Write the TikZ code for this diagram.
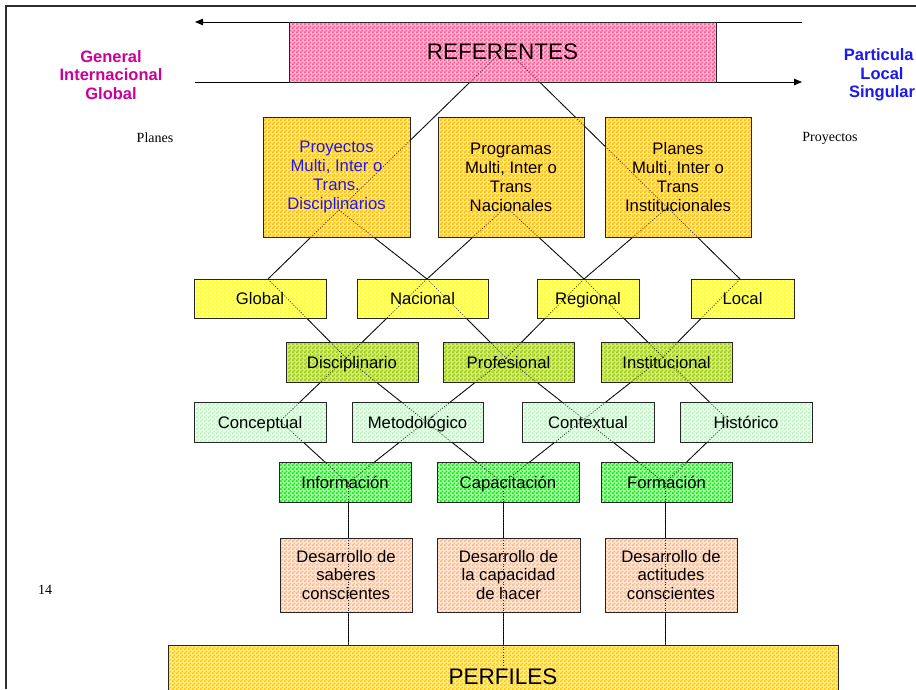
\documentclass[tikz,border=0pt]{standalone}
\usepackage{fontspec}
\setmainfont{Liberation Sans}
\newfontfamily\timesfont{Liberation Serif}
\usetikzlibrary{patterns,arrows.meta}

% small two-colour check used by every box
\pgfdeclarepatternformonly{finechecks}{\pgfpointorigin}{\pgfqpoint{4pt}{4pt}}{\pgfqpoint{4pt}{4pt}}%
{%
  \pgfpathrectangle{\pgfpointorigin}{\pgfqpoint{2pt}{2pt}}%
  \pgfpathrectangle{\pgfqpoint{2pt}{2pt}}{\pgfqpoint{2pt}{2pt}}%
  \pgfusepath{fill}%
}

\definecolor{framegray}{RGB}{45,45,45}
\definecolor{refpink}{RGB}{255,80,140}
\definecolor{refbase}{RGB}{255,185,212}
\definecolor{goldchk}{RGB}{255,185,0}
\definecolor{goldbase}{RGB}{255,232,130}
\definecolor{yellowchk}{RGB}{255,255,0}
\definecolor{yellowbase}{RGB}{255,255,165}
\definecolor{olivechk}{RGB}{150,200,0}
\definecolor{olivebase}{RGB}{214,234,135}
\definecolor{mintchk}{RGB}{180,245,190}
\definecolor{mintbase}{RGB}{235,255,235}
\definecolor{greenchk}{RGB}{0,235,0}
\definecolor{greenbase}{RGB}{175,255,175}
\definecolor{peachchk}{RGB}{250,180,135}
\definecolor{peachbase}{RGB}{255,230,212}
\definecolor{perfgold}{RGB}{255,200,0}
\definecolor{perfbase}{RGB}{255,236,135}
\definecolor{labelmagenta}{RGB}{204,0,153}
\definecolor{labelblue}{RGB}{25,25,240}

\tikzset{
  chkbox/.style 2 args={draw=black!85, line width=0.8pt, inner sep=0pt, align=center,
    preaction={fill=#2}, pattern=finechecks, pattern color=#1},
  boxtext/.style={font=\fontsize{16.7}{19}\selectfont},
  oneline/.style={boxtext, text height=12pt, text depth=0pt},
  bigtext/.style={font=\fontsize{22.5}{26}\selectfont},
  link/.style={line width=0.8pt, black},
  linkdots/.style={line width=0.7pt, black!85, dash pattern=on 1pt off 1.6pt},
  sidelabel/.style={align=center, font=\fontsize{16.5}{18.3}\selectfont\bfseries},
  serifnote/.style={font=\timesfont\fontsize{14}{16}\selectfont},
}

% every link of the lattice, as pairs of junction names
\def\linklist{jR/jGlo, jR/jLoc, jP1/jNac, jP2/jNac, jP2/jReg, jP3/jReg,
  jGlo/jDis, jNac/jDis, jNac/jPro, jReg/jPro, jReg/jIns, jLoc/jIns,
  jDis/jCon, jCon/jInf, jPro/jInf, jDis/jCap, jIns/jCap, jPro/jFor,
  jIns/jHis, jHis/jFor, jInf/eInf, jCap/eCap, jFor/eFor}

\begin{document}
\begin{tikzpicture}[x=1pt,y=-1pt]
\useasboundingbox (0,0) rectangle (916,689);

% page frame (top and left edges)
\draw[framegray, line width=1.5pt] (6,689) -- (6,6) -- (916,6);

% junction points of the lattice
\coordinate (jR)   at (505,48);
\coordinate (jP1)  at (339,210);
\coordinate (jP2)  at (506,207);
\coordinate (jP3)  at (667,208);
\coordinate (jGlo) at (268,279);
\coordinate (jNac) at (427,279);
\coordinate (jReg) at (584,279);
\coordinate (jLoc) at (740,279);
\coordinate (jDis) at (346,358);
\coordinate (jPro) at (506,358);
\coordinate (jIns) at (663,357);
\coordinate (jCon) at (280,421);
\coordinate (jHis) at (729,421);
\coordinate (jInf) at (348,483);
\coordinate (jCap) at (503,483);
\coordinate (jFor) at (665,483);
\coordinate (eInf) at (348,646);
\coordinate (eCap) at (503,670);
\coordinate (eFor) at (665,646);

% solid links under the boxes
\foreach \a/\b in \linklist {\draw[link] (\a) -- (\b);}

% the two direction arrows
\coordinate (upR) at (802,22);
\coordinate (upL) at (195,22);
\coordinate (loL) at (195,82);
\coordinate (loR) at (802,82);
\draw[link, -{Triangle[length=8pt,width=6.5pt]}] (upR) -- (upL);
\draw[link, -{Triangle[length=8pt,width=6.5pt]}] (loL) -- (loR);

% boxes
\node[chkbox={refpink}{refbase}, bigtext, minimum width=427, minimum height=60] (referentes) at (502.5,52) {REFERENTES};

\node[chkbox={goldchk}{goldbase}, boxtext, text=labelblue, minimum width=147, minimum height=120] (proyectos) at (336.5,177)
  {Proyectos\\Multi, Inter o\\Trans.\\Disciplinarios};
\node[chkbox={goldchk}{goldbase}, boxtext, minimum width=146, minimum height=120] (programas) at (511,177)
  {Programas\\Multi, Inter o\\Trans\\Nacionales};
\node[chkbox={goldchk}{goldbase}, boxtext, minimum width=146, minimum height=120] (planes) at (678,177)
  {Planes\\Multi, Inter o\\Trans\\Institucionales};

\node[chkbox={yellowchk}{yellowbase}, oneline, minimum width=132, minimum height=39] (global) at (260,298.5) {Global};
\node[chkbox={yellowchk}{yellowbase}, oneline, minimum width=131, minimum height=39] (nacional) at (422.5,298.5) {Nacional};
\node[chkbox={yellowchk}{yellowbase}, oneline, minimum width=102, minimum height=39] (regional) at (588,298.5) {Regional};
\node[chkbox={yellowchk}{yellowbase}, oneline, minimum width=103, minimum height=39] (local) at (742.5,298.5) {Local};

\node[chkbox={olivechk}{olivebase}, oneline, minimum width=132, minimum height=40] (disciplinario) at (352,362) {Disciplinario};
\node[chkbox={olivechk}{olivebase}, oneline, minimum width=131, minimum height=40] (profesional) at (508.5,362) {Profesional};
\node[chkbox={olivechk}{olivebase}, oneline, minimum width=131, minimum height=40] (institucional) at (666.5,362) {Institucional};

\node[chkbox={mintchk}{mintbase}, oneline, minimum width=132, minimum height=40] (conceptual) at (260,422) {Conceptual};
\node[chkbox={mintchk}{mintbase}, oneline, minimum width=131, minimum height=40] (metodologico) at (417.5,422) {Metodológico};
\node[chkbox={mintchk}{mintbase}, oneline, minimum width=132, minimum height=40] (contextual) at (588,422) {Contextual};
\node[chkbox={mintchk}{mintbase}, oneline, minimum width=132, minimum height=40] (historico) at (746,422) {Histórico};

\node[chkbox={greenchk}{greenbase}, oneline, minimum width=132, minimum height=40] (informacion) at (345,482) {Información};
\node[chkbox={greenchk}{greenbase}, oneline, minimum width=142, minimum height=40] (capacitacion) at (508,482) {Capacitación};
\node[chkbox={greenchk}{greenbase}, oneline, minimum width=131, minimum height=40] (formacion) at (666.5,482) {Formación};

\node[chkbox={peachchk}{peachbase}, font=\fontsize{16.7}{18.3}\selectfont, minimum width=132, minimum height=74] (saberes) at (346,575)
  {Desarrollo de\\saberes\\conscientes};
\node[chkbox={peachchk}{peachbase}, font=\fontsize{16.7}{18.3}\selectfont, minimum width=143, minimum height=74] (hacer) at (508.5,575)
  {Desarrollo de\\la capacidad\\de hacer};
\node[chkbox={peachchk}{peachbase}, font=\fontsize{16.7}{18.3}\selectfont, minimum width=132, minimum height=74] (actitudes) at (671,575)
  {Desarrollo de\\actitudes\\conscientes};

\node[chkbox={perfgold}{perfbase}, bigtext, minimum width=670, minimum height=64] (perfiles) at (503,677) {PERFILES};

% the links seen through the chequered fills
\foreach \a/\b in \linklist {\draw[linkdots] (\a) -- (\b);}

% side labels
\node[sidelabel, text=labelmagenta] (general) at (111,75) {General\\Internacional\\Global};
\node[sidelabel, text=labelblue] (particular) at (882,75) {Particula\phantom{r}\\Local\\Singular};
\node[serifnote] (planesnote) at (155,138) {Planes};
\node[serifnote] (proyectosnote) at (830,138) {Proyectos};
\node[serifnote] (pagenum) at (45,590) {14};
\end{tikzpicture}
\end{document}
